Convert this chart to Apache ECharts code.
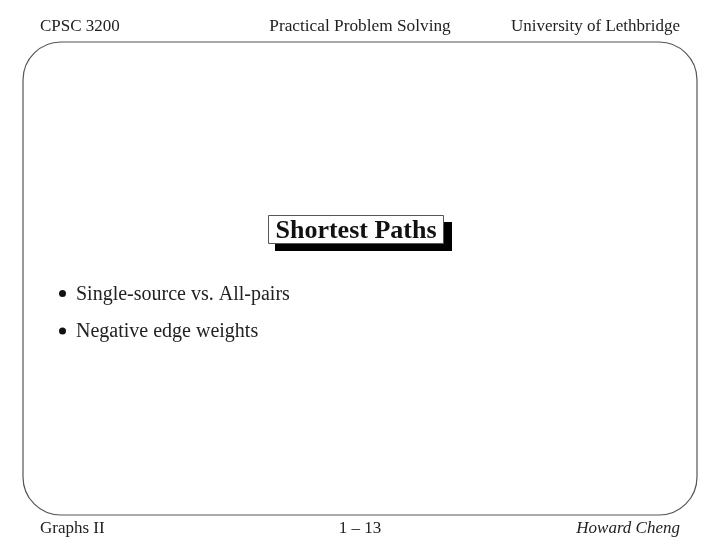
<!DOCTYPE html>
<html>
<head>
<meta charset="utf-8">
<style>
  html, body { margin: 0; padding: 0; background: #fff; }
  #slide { width: 720px; height: 557px; }
</style>
<script src="https://cdn.jsdelivr.net/npm/echarts@6/dist/echarts.min.js"></script>
</head>
<body>
<div id="slide"></div>
<script>
let headerTexts = ['CPSC 3200', 'Practical Problem Solving', 'University of Lethbridge'];
let footerTexts = ['Graphs II', '1 – 13', 'Howard Cheng'];
let titleText = 'Shortest Paths';
let bulletTexts = ['Single-source vs. All-pairs', 'Negative edge weights'];

let slide = echarts.init(document.getElementById('slide'), null, { renderer: 'canvas' });
let serif = '"Liberation Serif", serif';
let ink = '#222';

function label(text, x, y, size, align, extra) {
  return {
    type: 'text',
    x: x,
    y: y,
    style: Object.assign({
      text: text,
      fill: ink,
      font: size + 'px ' + serif,
      textAlign: align,
      textVerticalAlign: 'middle'
    }, extra || {})
  };
}

let elements = [
  // rounded frame
  { type: 'rect', shape: { x: 23, y: 42, width: 674, height: 473, r: 38 },
    style: { fill: '#fff', stroke: '#555', lineWidth: 1.2 } },
  // title box and its shadow
  { type: 'rect', shape: { x: 275, y: 222, width: 177, height: 29 }, style: { fill: '#000' } },
  { type: 'rect', shape: { x: 268.5, y: 215.5, width: 175, height: 28 },
    style: { fill: '#fff', stroke: '#555', lineWidth: 1 } },
  label(titleText, 356, 231, 26, 'center', { fill: '#111', font: 'bold 26px ' + serif }),
  label(headerTexts[0], 40, 26.5, 17, 'left'),
  label(headerTexts[1], 360, 26.5, 17.3, 'center'),
  label(headerTexts[2], 680, 26.5, 17, 'right'),
  label(footerTexts[0], 40, 528.5, 17, 'left'),
  label(footerTexts[1], 360, 528.5, 17, 'center'),
  label(footerTexts[2], 680, 528.5, 17, 'right', { font: 'italic 17px ' + serif })
];

bulletTexts.forEach((text, i) => {
  let y = 293.5 + i * 37.5;
  elements.push({ type: 'circle', shape: { cx: 62.5, cy: y, r: 3.5 }, style: { fill: '#111' } });
  elements.push(label(text, 76, y + 1, 20, 'left'));
});

slide.setOption({
  backgroundColor: '#fff',
  animation: false,
  graphic: { elements: elements }
});
</script>
</body>
</html>
